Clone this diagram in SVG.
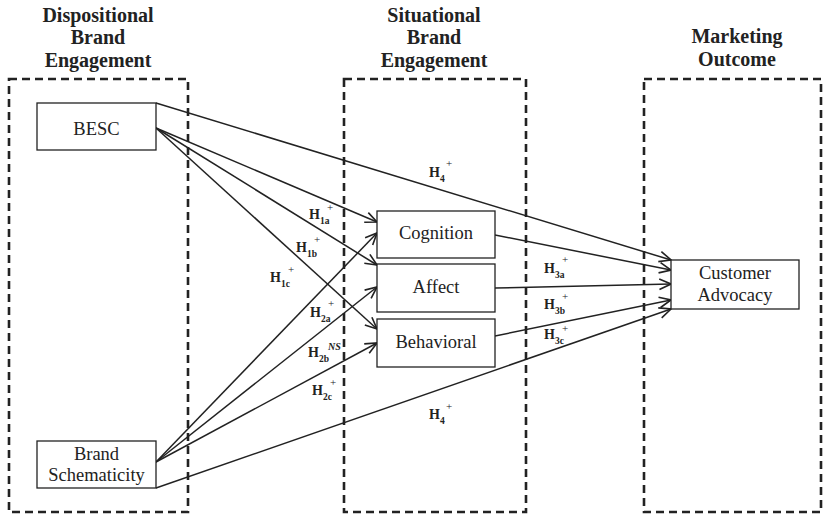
<svg xmlns="http://www.w3.org/2000/svg" width="823" height="515" viewBox="0 0 823 515">
<style>
text{font-family:"Liberation Serif","Times New Roman",Times,"DejaVu Serif",serif}
.grp{fill:none;stroke:#222;stroke-width:2.6;stroke-dasharray:8,5}
.node{fill:#fff;stroke:#222;stroke-width:1.3}
.hd{font-weight:bold;font-size:20px;fill:#222;text-anchor:middle}
.nt{font-size:18.5px;fill:#222;text-anchor:middle}
.hl{font-weight:bold;font-size:14px;fill:#222}
.sb{font-size:9.5px}
.sp{font-size:11px;font-weight:normal}
.ns{font-size:10px;font-style:italic}
.cn{fill:none;stroke:#222;stroke-width:1.5}
</style>
<defs>
<marker id="ah" markerUnits="userSpaceOnUse" markerWidth="14" markerHeight="14" viewBox="0 0 12 12" refX="11" refY="6" orient="auto">
<path d="M1,1.5 L11,6 L1,10.5" fill="none" stroke="#222" stroke-width="1.4"/>
</marker>
</defs>
<g id="groups">
<rect class="grp" x="9" y="79" width="179" height="433"/>
<rect class="grp" x="344" y="79" width="182" height="433"/>
<rect class="grp" x="644" y="79" width="177" height="433"/>
<text class="hd" x="98" y="21.5">Dispositional</text>
<text class="hd" x="98" y="44">Brand</text>
<text class="hd" x="98" y="66.5">Engagement</text>
<text class="hd" x="434" y="21.5">Situational</text>
<text class="hd" x="434" y="44">Brand</text>
<text class="hd" x="434" y="66.5">Engagement</text>
<text class="hd" x="737" y="43">Marketing</text>
<text class="hd" x="737" y="66">Outcome</text>
</g>
<g id="connectors">
<line class="cn" x1="156" y1="103" x2="671" y2="260" marker-end="url(#ah)"/>
<line class="cn" x1="156" y1="128" x2="377" y2="222" marker-end="url(#ah)"/>
<line class="cn" x1="156" y1="128" x2="377" y2="265" marker-end="url(#ah)"/>
<line class="cn" x1="156" y1="128" x2="377" y2="329" marker-end="url(#ah)"/>
<line class="cn" x1="156" y1="462" x2="377" y2="233" marker-end="url(#ah)"/>
<line class="cn" x1="156" y1="462" x2="377" y2="287" marker-end="url(#ah)"/>
<line class="cn" x1="156" y1="462" x2="377" y2="343" marker-end="url(#ah)"/>
<line class="cn" x1="156" y1="488" x2="671" y2="309" marker-end="url(#ah)"/>
<line class="cn" x1="495" y1="235" x2="671" y2="270" marker-end="url(#ah)"/>
<line class="cn" x1="495" y1="288" x2="671" y2="284" marker-end="url(#ah)"/>
<line class="cn" x1="495" y1="336" x2="671" y2="300" marker-end="url(#ah)"/>
</g>
<g id="besc"><rect class="node" x="37" y="103" width="119" height="47"/><text class="nt" x="96.5" y="135">BESC</text></g>
<g id="brand-schematicity"><rect class="node" x="37" y="441" width="119" height="47"/><text class="nt" x="96.5" y="460">Brand</text><text class="nt" x="96.5" y="481">Schematicity</text></g>
<g id="cognition"><rect class="node" x="377" y="211" width="118" height="47"/><text class="nt" x="436" y="239">Cognition</text></g>
<g id="affect"><rect class="node" x="377" y="264" width="118" height="48"/><text class="nt" x="436" y="293">Affect</text></g>
<g id="behavioral"><rect class="node" x="377" y="319" width="118" height="48"/><text class="nt" x="436" y="348">Behavioral</text></g>
<g id="customer-advocacy"><rect class="node" x="671" y="260" width="128" height="49"/><text class="nt" x="735" y="279">Customer</text><text class="nt" x="735" y="301">Advocacy</text></g>
<g id="labels">
<text class="hl" x="309" y="219">H<tspan class="sb" x="320" y="224">1a</tspan><tspan class="sp" x="327" y="211">+</tspan></text>
<text class="hl" x="296" y="252">H<tspan class="sb" x="307" y="257">1b</tspan><tspan class="sp" x="314" y="243">+</tspan></text>
<text class="hl" x="270" y="282">H<tspan class="sb" x="281" y="287">1c</tspan><tspan class="sp" x="288" y="273">+</tspan></text>
<text class="hl" x="310" y="317">H<tspan class="sb" x="321" y="322">2a</tspan><tspan class="sp" x="328" y="307">+</tspan></text>
<text class="hl" x="308" y="357">H<tspan class="sb" x="319" y="362">2b</tspan><tspan class="ns" x="328" y="350">NS</tspan></text>
<text class="hl" x="312" y="395">H<tspan class="sb" x="323" y="400">2c</tspan><tspan class="sp" x="330" y="386">+</tspan></text>
<text class="hl" x="429" y="177">H<tspan class="sb" x="440" y="182">4</tspan><tspan class="sp" x="446" y="167">+</tspan></text>
<text class="hl" x="429" y="419">H<tspan class="sb" x="440" y="424">4</tspan><tspan class="sp" x="446" y="410">+</tspan></text>
<text class="hl" x="544" y="273">H<tspan class="sb" x="555" y="278">3a</tspan><tspan class="sp" x="562" y="263">+</tspan></text>
<text class="hl" x="544" y="309">H<tspan class="sb" x="555" y="314">3b</tspan><tspan class="sp" x="562" y="300">+</tspan></text>
<text class="hl" x="544" y="339">H<tspan class="sb" x="555" y="344">3c</tspan><tspan class="sp" x="562" y="332">+</tspan></text>
</g>
</svg>
